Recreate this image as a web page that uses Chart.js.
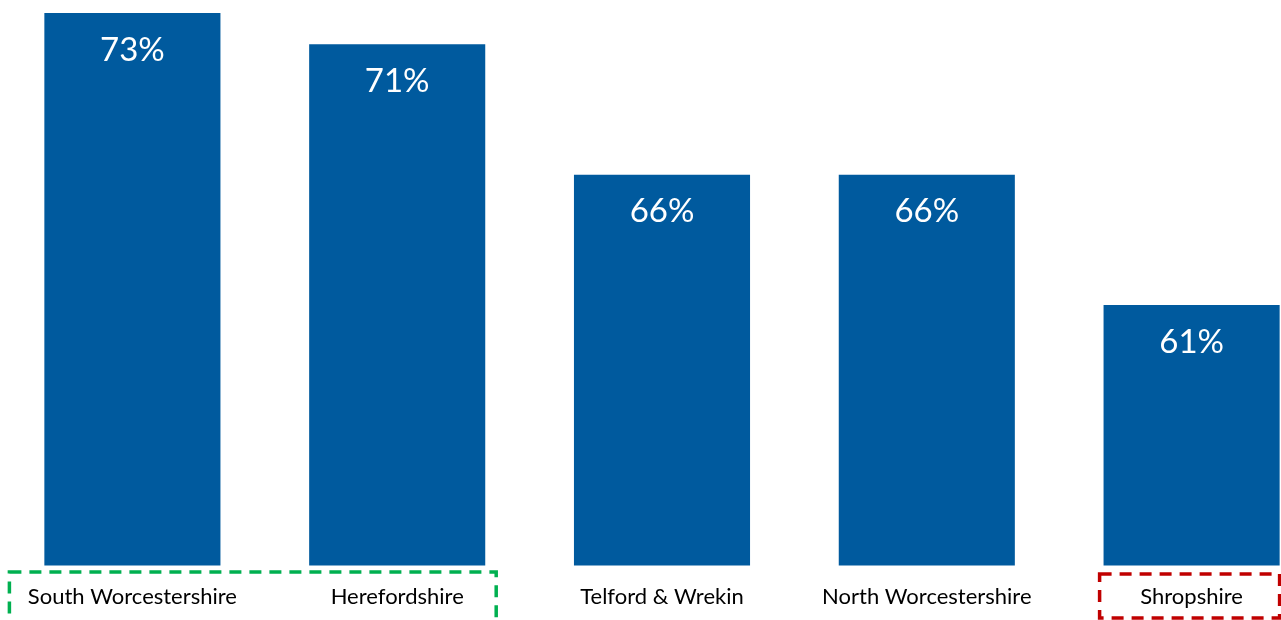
<!DOCTYPE html>
<html>
<head>
<meta charset="utf-8">
<script src="https://cdn.jsdelivr.net/npm/chart.js@4"></script>
<style>
	html, body { margin: 0; padding: 0; background: #fff; overflow: hidden; }
	#wrap { position: relative; width: 1324px; height: 640px; }
</style>
</head>
<body>
<div id="wrap"><canvas id="regionChart"></canvas></div>
<script>
const regions = ["South Worcestershire", "Herefordshire", "Telford & Wrekin", "North Worcestershire", "Shropshire"];
const shares = [72.7, 71.4, 66.0, 66.0, 60.6]; // percent, shown rounded on the bars
const axisMin = 49.8;
const axisMax = 72.7;

// dashed boxes under the axis
const highlights = [
	{ from: 0, to: 1, color: "#00b050", left: -123, right: 99, top: 572, bottom: 626 },
	{ from: 4, to: 4, color: "#c00000", left: -92, right: 88, top: 574, bottom: 618 }
];

const barLabels = {
	id: "barLabels",
	afterDatasetsDraw(chart) {
		const { ctx } = chart;
		const meta = chart.getDatasetMeta(0);
		ctx.save();
		ctx.fillStyle = "#ffffff";
		ctx.font = "33px Lato, 'Open Sans', sans-serif";
		ctx.textAlign = "center";
		ctx.textBaseline = "middle";
		meta.data.forEach((bar, i) => {
			ctx.fillText(Math.round(shares[i]) + "%", bar.x, bar.y + 37);
		});
		ctx.restore();
	}
};

const dashedBoxes = {
	id: "dashedBoxes",
	afterDraw(chart) {
		const { ctx } = chart;
		const x = chart.scales.x;
		ctx.save();
		ctx.lineWidth = 3.5;
		ctx.setLineDash([12, 8]);
		highlights.forEach(h => {
			const x0 = x.getPixelForValue(h.from) + h.left;
			const x1 = x.getPixelForValue(h.to) + h.right;
			ctx.strokeStyle = h.color;
			ctx.strokeRect(x0, h.top, x1 - x0, h.bottom - h.top);
		});
		ctx.restore();
	}
};

new Chart(document.getElementById("regionChart"), {
	type: "bar",
	data: {
		labels: regions,
		datasets: [{
			data: shares,
			backgroundColor: "#005a9e",
			borderWidth: 0,
			barPercentage: 0.665,
			categoryPercentage: 1
		}]
	},
	options: {
		responsive: true,
		maintainAspectRatio: false,
		animation: false,
		layout: { padding: { top: 13, bottom: 12, left: 0, right: 0 } },
		plugins: {
			legend: { display: false },
			tooltip: { enabled: false }
		},
		scales: {
			x: {
				grid: { display: false, drawTicks: false },
				border: { display: false },
				ticks: {
					color: "#000000",
					padding: 18,
					maxRotation: 0,
					autoSkip: false,
					font: { family: "Lato, 'Open Sans', sans-serif", size: 22 }
				}
			},
			y: {
				display: false,
				min: axisMin,
				max: axisMax
			}
		}
	},
	plugins: [barLabels, dashedBoxes]
});
</script>
</body>
</html>
